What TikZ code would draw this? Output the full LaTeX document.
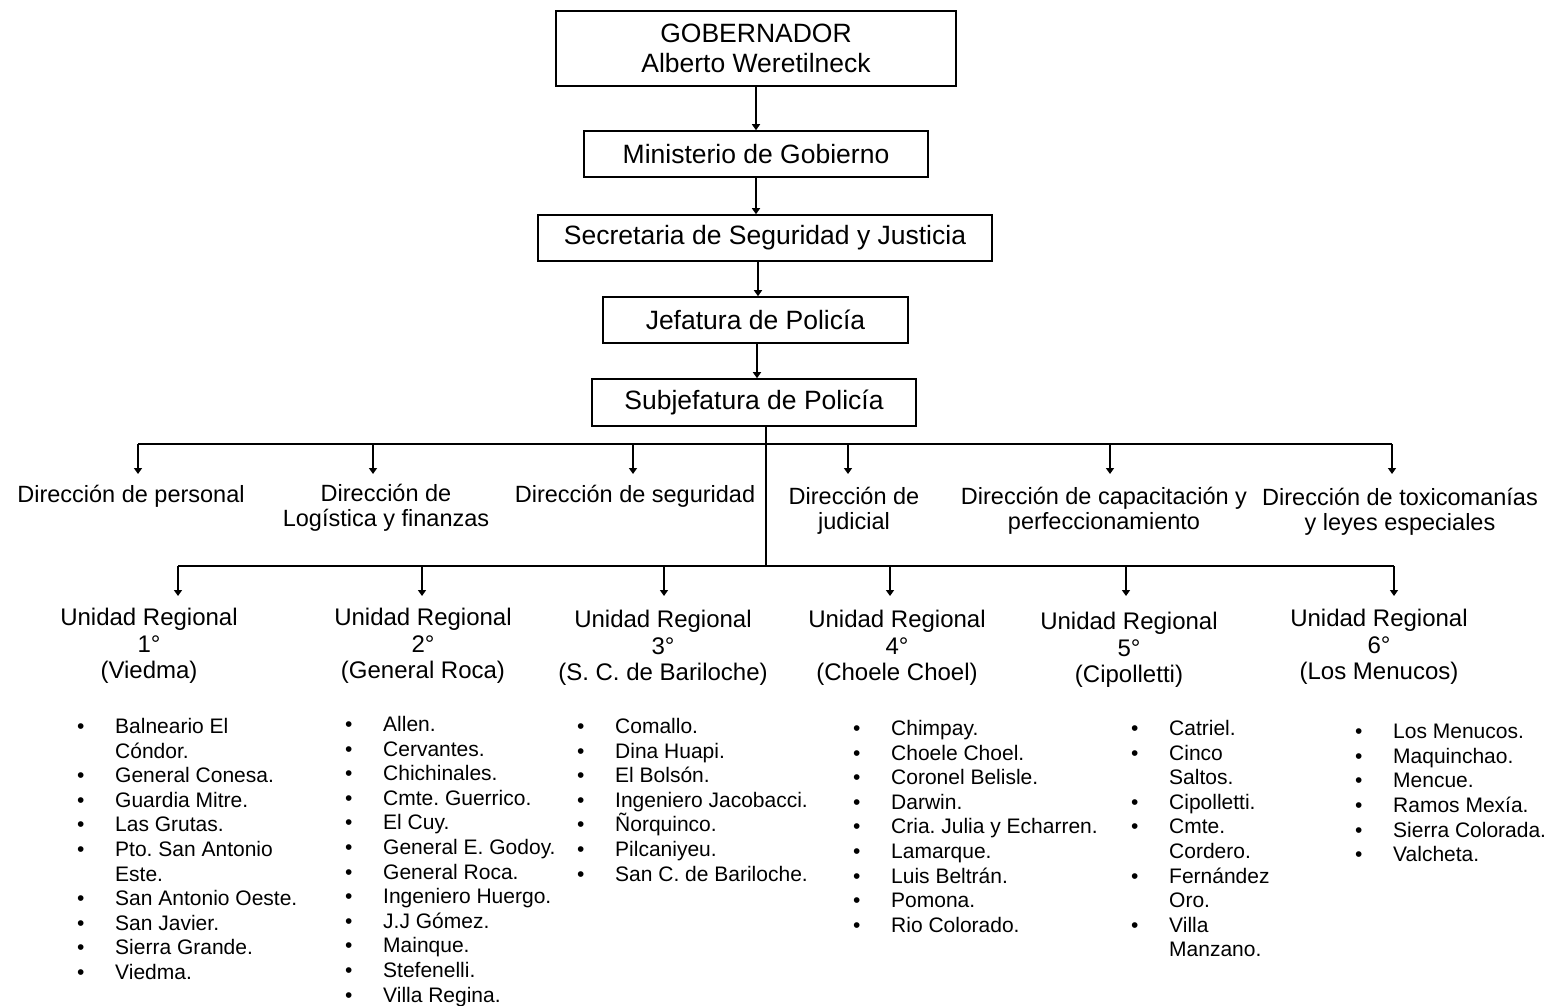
\documentclass[tikz,border=0pt]{standalone}
\usepackage{fontspec}
\setmainfont{Liberation Sans}
\usetikzlibrary{arrows.meta,calc}
\frenchspacing
\newcommand{\bu}{\makebox[38pt][l]{\textbullet}}
\newcommand{\cn}{\hspace*{38pt}}
\begin{document}
\begin{tikzpicture}[x=1pt,y=-1pt,
  boxn/.style={draw, line width=1.6pt, inner sep=0pt, align=center, font=\fontsize{26.5}{30}\selectfont},
  arr/.style={line width=1.5pt, -{Triangle[length=6pt,width=8pt]}},
  ln/.style={line width=1.5pt},
  dirn/.style={inner sep=0pt, align=center, font=\fontsize{23.5}{25}\selectfont},
  urn/.style={inner sep=0pt, align=center, font=\fontsize{24}{26.5}\selectfont},
  lst/.style={inner sep=0pt, anchor=north west, align=left, font=\fontsize{21}{24.6}\selectfont}]
\useasboundingbox[fill=white] (0,0) rectangle (1561,1005);

% top chain
\node[boxn, minimum width=400pt, minimum height=75pt] (gob) at (756,48.5) {GOBERNADOR\\Alberto Weretilneck};
\node[boxn, minimum width=344pt, minimum height=46pt] (min) at (756,154) {Ministerio de Gobierno};
\node[boxn, minimum width=454pt, minimum height=46pt] (sec) at (765,238) {Secretaria de Seguridad y Justicia};
\node[boxn, minimum width=305pt, minimum height=46pt] (jef) at (755.5,320) {Jefatura de Policía};
\node[boxn, minimum width=324pt, minimum height=47pt] (sub) at (754,402.5) {Subjefatura de Policía};

\draw[arr] (gob.south) -- (min.north);
\draw[arr] (min.south) -- (min.south |- sec.north);
\draw[arr] (sec.south -| 758,0) -- (jef.north -| 758,0);
\draw[arr] (jef.south -| 757,0) -- (sub.north -| 757,0);

% trunk and buses
\coordinate (s0) at (sub.south -| 766,0);
\coordinate (j1) at (766,444);
\coordinate (j2) at (766,566);
\draw[ln] (s0) -- (j2);
\draw[ln] (138,444) -- (1392,444);
\draw[ln] (178,566) -- (1394,566);

% direcciones
\node[dirn] (d1) at (131,496) {Dirección de personal};
\node[dirn] (d2) at (386,508) {Dirección de\\Logística y finanzas};
\node[dirn] (d3) at (635,496) {Dirección de seguridad};
\node[dirn] (d4) at (854,511) {Dirección de\\judicial};
\node[dirn] (d5) at (1104,511) {Dirección de capacitación y\\perfeccionamiento};
\node[dirn] (d6) at (1400,512) {Dirección de toxicomanías\\y leyes especiales};

\foreach \x/\n in {138/1,373/2,633/3,848/4,1110/5,1392/6}{
  \coordinate (bd\n) at (\x,444);
  \coordinate (ed\n) at (\x,474);
  \draw[arr] (bd\n) -- (ed\n);
}

% unidades regionales
\node[urn] (u1) at (149,646) {Unidad Regional\\1°\\(Viedma)};
\node[urn] (u2) at (423,646) {Unidad Regional\\2°\\(General Roca)};
\node[urn] (u3) at (663,648) {Unidad Regional\\3°\\(S. C. de Bariloche)};
\node[urn] (u4) at (897,648) {Unidad Regional\\4°\\(Choele Choel)};
\node[urn] (u5) at (1129,650) {Unidad Regional\\5°\\(Cipolletti)};
\node[urn] (u6) at (1379,647) {Unidad Regional\\6°\\(Los Menucos)};

\foreach \x/\n in {178/1,422/2,664/3,890/4,1126/5,1394/6}{
  \coordinate (bu\n) at (\x,566);
  \coordinate (eu\n) at (\x,596);
  \draw[arr] (bu\n) -- (eu\n);
}

% lists
\node[lst] (l1) at (77,718) {\bu Balneario El\\\cn Cóndor.\\\bu General Conesa.\\\bu Guardia Mitre.\\\bu Las Grutas.\\\bu Pto. San Antonio\\\cn Este.\\\bu San Antonio Oeste.\\\bu San Javier.\\\bu Sierra Grande.\\\bu Viedma.};
\node[lst] (l2) at (345,716) {\bu Allen.\\\bu Cervantes.\\\bu Chichinales.\\\bu Cmte. Guerrico.\\\bu El Cuy.\\\bu General E. Godoy.\\\bu General Roca.\\\bu Ingeniero Huergo.\\\bu J.J Gómez.\\\bu Mainque.\\\bu Stefenelli.\\\bu Villa Regina.};
\node[lst] (l3) at (577,718) {\bu Comallo.\\\bu Dina Huapi.\\\bu El Bolsón.\\\bu Ingeniero Jacobacci.\\\bu Ñorquinco.\\\bu Pilcaniyeu.\\\bu San C. de Bariloche.};
\node[lst] (l4) at (853,720) {\bu Chimpay.\\\bu Choele Choel.\\\bu Coronel Belisle.\\\bu Darwin.\\\bu Cria. Julia y Echarren.\\\bu Lamarque.\\\bu Luis Beltrán.\\\bu Pomona.\\\bu Rio Colorado.};
\node[lst] (l5) at (1131,720) {\bu Catriel.\\\bu Cinco\\\cn Saltos.\\\bu Cipolletti.\\\bu Cmte.\\\cn Cordero.\\\bu Fernández\\\cn Oro.\\\bu Villa\\\cn Manzano.};
\node[lst] (l6) at (1355,724) {\bu Los Menucos.\\\bu Maquinchao.\\\bu Mencue.\\\bu Ramos Mexía.\\\bu Sierra Colorada.\\\bu Valcheta.};
\end{tikzpicture}
\end{document}
